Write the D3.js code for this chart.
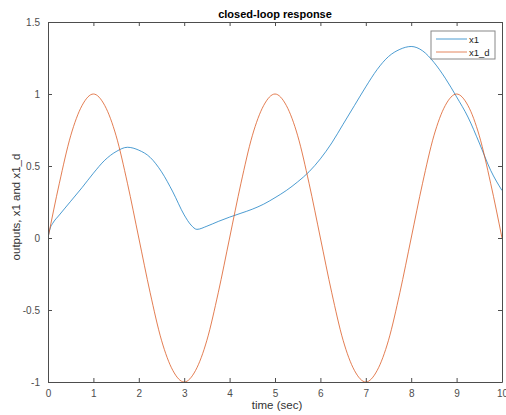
<!DOCTYPE html>
<html>
<head>
<meta charset="utf-8">
<script src="https://cdn.jsdelivr.net/npm/d3@7"></script>
<style>
  body { margin: 0; background: #fff; }
  text { font-family: "Liberation Sans", Arial, sans-serif; }
</style>
</head>
<body>
<div id="chart"></div>
<script>
// x1 (closed-loop output)
var tX1 = [0, 0.05, 0.1, 0.25, 0.5, 0.75, 1, 1.25, 1.5, 1.75, 2, 2.25, 2.5, 2.75, 3, 3.15, 3.28, 3.5,
  3.75, 4, 4.25, 4.5, 4.75, 5, 5.25, 5.5, 5.75, 6, 6.25, 6.5, 6.75, 7, 7.25, 7.5, 7.75, 8, 8.25,
  8.5, 8.75, 9, 9.25, 9.5, 9.75, 10];
var x1 = [0, 0.07, 0.1, 0.16, 0.255, 0.35, 0.45, 0.54, 0.6, 0.63, 0.61, 0.56, 0.46, 0.32, 0.16, 0.09,
  0.06, 0.082, 0.115, 0.145, 0.172, 0.2, 0.235, 0.28, 0.33, 0.39, 0.46, 0.55, 0.66, 0.79, 0.92, 1.05,
  1.17, 1.26, 1.31, 1.33, 1.3, 1.22, 1.11, 0.98, 0.84, 0.66, 0.47, 0.33];

// x1_d (desired), sampled every 0.25 s
var tX1d = [0, 0.25, 0.5, 0.75, 1, 1.25, 1.5, 1.75, 2, 2.25, 2.5, 2.75, 3, 3.25, 3.5, 3.75, 4, 4.25,
  4.5, 4.75, 5, 5.25, 5.5, 5.75, 6, 6.25, 6.5, 6.75, 7, 7.25, 7.5, 7.75, 8, 8.25, 8.5, 8.75, 9,
  9.25, 9.5, 9.75, 10];
var x1d = [0, 0.38, 0.71, 0.92, 1, 0.92, 0.71, 0.38, 0, -0.38, -0.71, -0.92, -1, -0.92, -0.71, -0.38,
  0, 0.38, 0.71, 0.92, 1, 0.92, 0.71, 0.38, 0, -0.38, -0.71, -0.92, -1, -0.92, -0.71, -0.38, 0,
  0.38, 0.71, 0.92, 1, 0.92, 0.71, 0.38, 0];

var xTicks = [0, 1, 2, 3, 4, 5, 6, 7, 8, 9, 10];
var yTicks = [-1, -0.5, 0, 0.5, 1, 1.5];
var yTickLabels = ['-1', '-0.5', '0', '0.5', '1', '1.5'];

var width = 506,
  height = 415,
  padLeft = 48,
  padRight = 502,
  padTop = 22,
  padBottom = 382;

var svg = d3.select('#chart')
  .append('svg')
  .attr('width', width)
  .attr('height', height);

var x = d3.scaleLinear().domain([0, 10]).range([padLeft, padRight]);
var y = d3.scaleLinear().domain([-1, 1.5]).range([padBottom, padTop]);

var axisColor = '#4d4d4d',
  labelColor = '#4d4d4d';

// curves, clipped to the box
svg.append('clipPath').attr('id', 'clip')
  .append('rect')
  .attr('x', padLeft).attr('y', padTop)
  .attr('width', padRight - padLeft).attr('height', padBottom - padTop);

var line = d3.line()
  .x(function(d) { return x(d[0]); })
  .y(function(d) { return y(d[1]); })
  .curve(d3.curveMonotoneX);

var plot = svg.append('g').attr('clip-path', 'url(#clip)');

plot.append('path')
  .datum(d3.zip(tX1, x1))
  .attr('d', line)
  .attr('fill', 'none')
  .attr('stroke', '#0072BD')
  .attr('stroke-opacity', 0.7)
  .attr('stroke-width', 1);

plot.append('path')
  .datum(d3.zip(tX1d, x1d))
  .attr('d', line)
  .attr('fill', 'none')
  .attr('stroke', '#D95319')
  .attr('stroke-opacity', 0.75)
  .attr('stroke-width', 1);

// axes
var tickLen = 4;
var bottomAxis = d3.axisBottom(x).tickValues(xTicks).tickSizeInner(-tickLen).tickSizeOuter(0).tickPadding(8);
var topAxis = d3.axisTop(x).tickValues(xTicks).tickSizeInner(-tickLen).tickSizeOuter(0).tickFormat('');
var leftAxis = d3.axisLeft(y).tickValues(yTicks).tickSizeInner(-tickLen).tickSizeOuter(0).tickPadding(8)
  .tickFormat(function(d, i) { return yTickLabels[i]; });
var rightAxis = d3.axisRight(y).tickValues(yTicks).tickSizeInner(-tickLen).tickSizeOuter(0).tickFormat('');

function styleAxis(g) {
  g.select('.domain').attr('stroke', axisColor).attr('stroke-width', 1);
  g.selectAll('.tick line').attr('stroke', axisColor);
  g.selectAll('.tick text')
    .attr('fill', labelColor)
    .style('font-size', '10px')
    .style('font-family', '"Liberation Sans", Arial, sans-serif');
}

svg.append('g').attr('transform', 'translate(0,' + padBottom + ')').call(bottomAxis).call(styleAxis);
svg.append('g').attr('transform', 'translate(0,' + padTop + ')').call(topAxis).call(styleAxis);
svg.append('g').attr('transform', 'translate(' + padLeft + ',0)').call(leftAxis).call(styleAxis);
svg.append('g').attr('transform', 'translate(' + padRight + ',0)').call(rightAxis).call(styleAxis);

// title and labels
svg.append('text')
  .attr('x', (padLeft + padRight) / 2)
  .attr('y', 18)
  .attr('text-anchor', 'middle')
  .style('font-size', '11px')
  .style('font-weight', 'bold')
  .attr('fill', '#000')
  .text('closed-loop response');

svg.append('text')
  .attr('x', 277)
  .attr('y', 409)
  .attr('text-anchor', 'middle')
  .style('font-size', '11.5px')
  .attr('fill', '#333')
  .text('time (sec)');

svg.append('text')
  .attr('transform', 'translate(20,207) rotate(-90)')
  .attr('text-anchor', 'middle')
  .style('font-size', '11.5px')
  .attr('fill', '#333')
  .text('outputs, x1 and x1_d');

// legend
var legend = svg.append('g').attr('transform', 'translate(431,31)');
legend.append('rect')
  .attr('width', 64).attr('height', 28)
  .attr('fill', '#fff')
  .attr('stroke', '#888')
  .attr('stroke-width', 1);

var entries = [
  { name: 'x1', color: '#0072BD' },
  { name: 'x1_d', color: '#D95319' }
];
entries.forEach(function(e, i) {
  var yy = 8 + i * 13;
  legend.append('line')
    .attr('x1', 5).attr('x2', 36)
    .attr('y1', yy).attr('y2', yy)
    .attr('stroke', e.color)
    .attr('stroke-opacity', 0.7)
    .attr('stroke-width', 1);
  legend.append('text')
    .attr('x', 38).attr('y', yy + 3.5)
    .style('font-size', '9.5px')
    .attr('fill', '#222')
    .text(e.name);
});
</script>
</body>
</html>
